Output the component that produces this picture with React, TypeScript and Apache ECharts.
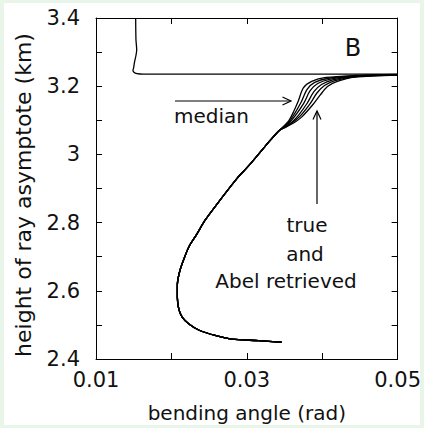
import React, { useEffect, useRef } from 'react';
import * as echarts from 'echarts';

const xTickLabels = ['0.01', '0.03', '0.05'];
const yTickLabels = ['2.4', '2.6', '2.8', '3', '3.2', '3.4'];

// common lower part of all profiles: [bending angle (rad), height (km)]
const lowerBranch: [number, number][] = [
  [0.03461, 2.4494], [0.03158, 2.4538], [0.02803, 2.4581], [0.02592, 2.4683],
  [0.02368, 2.4843], [0.02237, 2.5017], [0.02145, 2.5221], [0.02099, 2.5453],
  [0.02079, 2.5802], [0.02079, 2.618], [0.02112, 2.6587], [0.02171, 2.6965],
  [0.02237, 2.7314], [0.02329, 2.7634], [0.02447, 2.807], [0.02592, 2.8506],
  [0.02868, 2.9291], [0.03026, 2.9669], [0.03237, 3.0221], [0.03316, 3.0424],
  [0.0343, 3.07],
];

// diverging upper parts (true and Abel retrieved profiles)
const profileA: [number, number][] = [
  [0.035, 3.085], [0.0356, 3.1], [0.0362, 3.125], [0.0368, 3.155], [0.0375, 3.195],
  [0.0386, 3.214], [0.0405, 3.2256], [0.0443, 3.2314], [0.05, 3.2343],
];
const profileB: [number, number][] = [
  [0.03505, 3.084], [0.0357, 3.098], [0.0364, 3.122], [0.0372, 3.153], [0.038, 3.191],
  [0.039, 3.211], [0.0408, 3.2233], [0.0443, 3.2304], [0.05, 3.234],
];
const profileC: [number, number][] = [
  [0.0351, 3.083], [0.0358, 3.097], [0.0366, 3.119], [0.0376, 3.152], [0.0384, 3.187],
  [0.0394, 3.208], [0.0411, 3.221], [0.0443, 3.2294], [0.05, 3.2337],
];
const profileD: [number, number][] = [
  [0.0351, 3.082], [0.036, 3.095], [0.0369, 3.116], [0.038, 3.15], [0.0389, 3.184],
  [0.0399, 3.205], [0.0414, 3.2187], [0.0443, 3.2284], [0.05, 3.2334],
];
const profileE: [number, number][] = [
  [0.0352, 3.081], [0.0361, 3.094], [0.0371, 3.113], [0.0384, 3.149], [0.0393, 3.18],
  [0.0403, 3.202], [0.0417, 3.2164], [0.0443, 3.2275], [0.05, 3.2331],
];
const profileF: [number, number][] = [
  [0.0352, 3.08], [0.0362, 3.092], [0.0373, 3.11], [0.0388, 3.147], [0.0398, 3.176],
  [0.0407, 3.199], [0.042, 3.214], [0.0443, 3.2265], [0.05, 3.2328],
];

// upper branch above the layer top
const upperBranch: [number, number][] = [
  [0.05, 3.2352], [0.03, 3.2352], [0.017, 3.2352], [0.0158, 3.2358],
  [0.0152, 3.2385], [0.0149, 3.245], [0.015, 3.255], [0.0151, 3.27],
  [0.0153, 3.29], [0.0154, 3.307], [0.0153, 3.336], [0.01526, 3.4],
];

const FONT = '"DejaVu Sans", sans-serif';
const INK = '#111';

function labelFor(list: string[], v: number): string {
  const hit = list.find((l) => Math.abs(parseFloat(l) - v) < 1e-7);
  return hit ?? '';
}

export default function App() {
  const ref = useRef<HTMLDivElement>(null);

  useEffect(() => {
    if (!ref.current) return;
    const chart = echarts.init(ref.current, undefined, { renderer: 'svg' });

    const axisLine = { show: true, onZero: false, lineStyle: { color: '#000', width: 1 } };
    const axisTick = { show: true, inside: true, length: 6, lineStyle: { color: '#000', width: 1 } };

    const profiles = [profileA, profileB, profileC, profileD, profileE, profileF];
    const series: any[] = profiles.map((p, i) => ({
      type: 'line',
      name: 'profile ' + (i + 1),
      data: lowerBranch.concat(p),
      showSymbol: false,
      smooth: 0.3,
      lineStyle: { color: '#000', width: 1.3 },
      silent: true,
    }));
    series.push({
      type: 'line',
      name: 'upper',
      data: upperBranch,
      showSymbol: false,
      smooth: 0.2,
      lineStyle: { color: '#000', width: 1.3 },
      silent: true,
    });

    chart.setOption({
      animation: false,
      backgroundColor: 'transparent',
      grid: { left: 96, right: 24, top: 18, bottom: 66, containLabel: false },
      xAxis: [
        {
          type: 'value',
          min: 0.01,
          max: 0.05,
          interval: 0.01,
          position: 'bottom',
          axisLine,
          axisTick,
          splitLine: { show: false },
          axisLabel: {
            formatter: (v: number) => labelFor(xTickLabels, v),
            margin: 10,
            fontFamily: FONT,
            fontSize: 21,
            color: INK,
            showMinLabel: true,
            showMaxLabel: true,
          },
          name: 'bending angle (rad)',
          nameLocation: 'middle',
          nameGap: 44,
          nameTextStyle: { fontFamily: FONT, fontSize: 20, color: INK },
        },
        {
          type: 'value',
          min: 0.01,
          max: 0.05,
          interval: 0.01,
          position: 'top',
          axisLine,
          axisTick,
          splitLine: { show: false },
          axisLabel: { show: false },
        },
      ],
      yAxis: [
        {
          type: 'value',
          min: 2.4,
          max: 3.4,
          interval: 0.1,
          position: 'left',
          axisLine,
          axisTick,
          splitLine: { show: false },
          axisLabel: {
            formatter: (v: number) => labelFor(yTickLabels, v),
            margin: 16,
            fontFamily: FONT,
            fontSize: 21,
            color: INK,
            showMinLabel: true,
            showMaxLabel: true,
          },
        },
        {
          type: 'value',
          min: 2.4,
          max: 3.4,
          interval: 0.1,
          position: 'right',
          axisLine,
          axisTick,
          splitLine: { show: false },
          axisLabel: { show: false },
        },
      ],
      series,
      graphic: [
        {
          type: 'text',
          x: 23,
          y: 195,
          rotation: Math.PI / 2,
          style: {
            text: 'height of ray asymptote (km)',
            fontFamily: FONT,
            fontSize: 22,
            fill: INK,
            align: 'center',
            verticalAlign: 'middle',
          },
        },
        {
          type: 'text',
          x: 353,
          y: 48,
          style: { text: 'B', fontFamily: FONT, fontSize: 24, fill: INK, align: 'center', verticalAlign: 'middle' },
        },
        {
          type: 'text',
          x: 174,
          y: 115.5,
          style: { text: 'median', fontFamily: FONT, fontSize: 20, fill: INK, align: 'left', verticalAlign: 'middle' },
        },
        {
          type: 'text',
          x: 307,
          y: 225,
          style: { text: 'true', fontFamily: FONT, fontSize: 20, fill: INK, align: 'center', verticalAlign: 'middle' },
        },
        {
          type: 'text',
          x: 305,
          y: 254,
          style: { text: 'and', fontFamily: FONT, fontSize: 20, fill: INK, align: 'center', verticalAlign: 'middle' },
        },
        {
          type: 'text',
          x: 286,
          y: 281,
          style: { text: 'Abel retrieved', fontFamily: FONT, fontSize: 20, fill: INK, align: 'center', verticalAlign: 'middle' },
        },
        {
          type: 'line',
          shape: { x1: 175, y1: 101, x2: 290.5, y2: 101 },
          style: { stroke: '#000', lineWidth: 1.2 },
        },
        {
          type: 'polyline',
          shape: { points: [[282.5, 97], [291, 101], [282.5, 105]] },
          style: { stroke: '#000', lineWidth: 1.2, fill: 'none' },
        },
        {
          type: 'line',
          shape: { x1: 317, y1: 204, x2: 317, y2: 111.5 },
          style: { stroke: '#000', lineWidth: 1.2 },
        },
        {
          type: 'polyline',
          shape: { points: [[313, 119.5], [317, 111], [321, 119.5]] },
          style: { stroke: '#000', lineWidth: 1.2, fill: 'none' },
        },
      ],
    });

    return () => chart.dispose();
  }, []);

  return (
    <div style={{ position: 'fixed', left: 0, top: 0, width: 424, height: 428, background: '#eaf5ea' }}>
      <div style={{ position: 'absolute', left: 4, top: 3, width: 416, height: 422, background: '#fff' }} />
      <div ref={ref} style={{ position: 'absolute', left: 0, top: 0, width: 424, height: 428 }} />
    </div>
  );
}
